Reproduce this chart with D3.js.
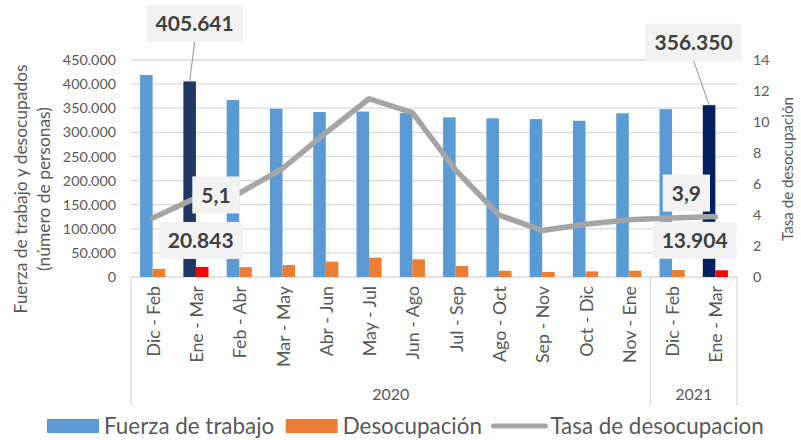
<!DOCTYPE html>
<html><head><meta charset="utf-8">
<script src="https://cdn.jsdelivr.net/npm/d3@7"></script>
<style>
html,body{margin:0;padding:0;background:#fff;}
svg{display:block;font-family:Lato,"Open Sans",sans-serif;}
</style></head>
<body>
<svg id="chart" width="801" height="440"></svg>
<script>
// ---- data ----
const categories = ["Dic - Feb","Ene - Mar","Feb - Abr","Mar - May","Abr - Jun","May - Jul","Jun - Ago","Jul - Sep","Ago - Oct","Sep - Nov","Oct - Dic","Nov - Ene","Dic - Feb","Ene - Mar"];
const years = ["2020","2020","2020","2020","2020","2020","2020","2020","2020","2020","2020","2020","2021","2021"];
const fuerzaTrabajo = [419000,405641,367000,349000,342000,343000,340000,331000,329000,327500,324000,339500,348000,356350];
const desocupacion = [17000,20843,20500,24900,31800,40000,36600,22800,13000,10400,11700,13000,14500,13904];
const tasaDesocupacion = [3.8,5.1,5.4,7.0,9.3,11.5,10.6,6.9,4.0,3.0,3.4,3.7,3.8,3.9];
const leftTicks = [0,50000,100000,150000,200000,250000,300000,350000,400000,450000];
const rightTicks = [0,2,4,6,8,10,12,14];
const seriesNames = ["Fuerza de trabajo","Desocupación","Tasa de desocupacion"];
const highlighted = [1,13];

(function(){
// ---- styles ----
const C = {blue:"#5B9BD5", orange:"#ED7D31", gray:"#A5A5A5", grid:"#D9D9D9", text:"#595959", label:"#404040", box:"#F2F2F2"};
const darkBar = {1:"#1F3864", 13:"#002060"};
const redBar = "#FF0000";

const loc = d3.formatLocale({decimal:",", thousands:".", grouping:[3], currency:["",""]});
const fmtInt = loc.format(",.0f");
const fmtDec = loc.format(",.1f");

const svg = d3.select("#chart");
const pLeft = 131, pRight = 737, pTop = 60, pBottom = 277;

const x0 = d3.scaleBand().domain(d3.range(categories.length)).range([pLeft,pRight]).paddingInner(0.42).paddingOuter(0.21);
const x1 = d3.scaleBand().domain(["f","d"]).range([0,x0.bandwidth()]);
const yL = d3.scaleLinear().domain([0,450000]).range([pBottom,pTop]);
const yR = d3.scaleLinear().domain([0,14]).range([pBottom,pTop]);
const cx = i => x0(i) + x0.bandwidth()/2;

// gridlines
svg.append("g").selectAll("line").data(leftTicks.filter(d=>d>0)).join("line")
  .attr("x1",pLeft).attr("x2",pRight).attr("y1",d=>yL(d)).attr("y2",d=>yL(d))
  .attr("stroke",C.grid).attr("stroke-width",1.3);

// left axis
const gL = svg.append("g").attr("transform",`translate(${pLeft},0)`)
  .call(d3.axisLeft(yL).tickValues(leftTicks).tickFormat(fmtInt).tickSize(0).tickPadding(15));
gL.select(".domain").remove();
gL.selectAll("text").attr("fill",C.text).style("font-size","14.3px").style("font-family","Lato");

// right axis
const gR = svg.append("g").attr("transform",`translate(${pRight},0)`)
  .call(d3.axisRight(yR).tickValues(rightTicks).tickFormat(d3.format("d")).tickSize(0).tickPadding(16));
gR.select(".domain").remove();
gR.selectAll("text").attr("fill",C.text).style("font-size","14.3px").style("font-family","Lato");

// category axis lines
const step = x0.step();
const edge = i => x0(i) - step*x0.paddingOuter();
svg.append("line").attr("x1",pLeft).attr("x2",pRight).attr("y1",pBottom).attr("y2",pBottom).attr("stroke",C.grid).attr("stroke-width",1.3);
const yearGroups = [];
years.forEach((y,i)=>{ if(!yearGroups.length || yearGroups[yearGroups.length-1].year!==y) yearGroups.push({year:y,start:i,end:i}); else yearGroups[yearGroups.length-1].end=i; });
const sepX = [pLeft].concat(yearGroups.map(g=> g.end+1<categories.length ? edge(g.end+1) : pRight));
svg.append("g").selectAll("line").data(sepX).join("line")
  .attr("x1",d=>d).attr("x2",d=>d).attr("y1",pBottom).attr("y2",405)
  .attr("stroke",C.grid).attr("stroke-width",1.3);

// category labels
svg.append("g").selectAll("text").data(categories).join("text")
  .attr("transform",(d,i)=>`translate(${cx(i)},286) rotate(-90)`)
  .attr("text-anchor","end").attr("dy","0.4em")
  .attr("fill",C.text).style("font-size","17.8px").text(d=>d);

// year labels
svg.append("g").selectAll("text").data(yearGroups).join("text")
  .attr("x",g=>{const a=edge(g.start); const b=g.end+1<categories.length?edge(g.end+1):pRight; return (a+b)/2;})
  .attr("y",400).attr("text-anchor","middle").attr("fill",C.text).style("font-size","16px").text(g=>g.year);

// bars
const bars = svg.append("g");
bars.selectAll("rect.f").data(fuerzaTrabajo).join("rect").attr("class","f")
  .attr("x",(d,i)=>x0(i)+x1("f")).attr("width",x1.bandwidth())
  .attr("y",d=>yL(d)).attr("height",d=>pBottom-yL(d))
  .attr("fill",(d,i)=>darkBar[i]||C.blue);
bars.selectAll("rect.d").data(desocupacion).join("rect").attr("class","d")
  .attr("x",(d,i)=>x0(i)+x1("d")).attr("width",x1.bandwidth())
  .attr("y",d=>yL(d)).attr("height",d=>pBottom-yL(d))
  .attr("fill",(d,i)=>highlighted.includes(i)?redBar:C.orange);

// line
svg.append("path").datum(tasaDesocupacion)
  .attr("d",d3.line().x((d,i)=>cx(i)).y(d=>yR(d)))
  .attr("fill","none").attr("stroke",C.gray).attr("stroke-width",5.5)
  .attr("stroke-linejoin","round").attr("stroke-linecap","round");

// data labels
const lab = svg.append("g");
function labelBox(x,y,txt,leader){
  const g = lab.append("g");
  const t = g.append("text").attr("x",x).attr("y",y).attr("dy","0.36em").attr("text-anchor","middle")
    .attr("fill",C.label).style("font-size","21px").style("font-weight","bold").text(txt);
  const w = t.node().getComputedTextLength()+18, h = 37;
  g.insert("rect","text").attr("x",x-w/2).attr("y",y-h/2).attr("width",w).attr("height",h).attr("fill",C.box);
  if(leader){
    g.insert("line","rect").attr("x1",x).attr("y1",y+h/2).attr("x2",leader[0]).attr("y2",leader[1])
      .attr("stroke","#A6A6A6").attr("stroke-width",1.2);
  }
}
const fOff = {1:[5,-58], 13:[-15.5,-63]};
const tOff = {1:[20,-3], 13:[-29,-23.5]};
const dOff = {1:[-1.5,-26.5], 13:[-27,-30]};
highlighted.forEach(i=>{
  const bx = x0(i)+x1("f")+x1.bandwidth()/2, by = yL(fuerzaTrabajo[i]);
  labelBox(bx+fOff[i][0], by+fOff[i][1], fmtInt(fuerzaTrabajo[i]), [bx, by]);
  const dx = x0(i)+x1("d")+x1.bandwidth()/2, dy = yL(desocupacion[i]);
  labelBox(dx+dOff[i][0], dy+dOff[i][1], fmtInt(desocupacion[i]));
  labelBox(cx(i)+tOff[i][0], yR(tasaDesocupacion[i])+tOff[i][1], fmtDec(tasaDesocupacion[i]));
});

// axis titles
const tl = svg.append("text").attr("transform","translate(21,189) rotate(-90)").attr("text-anchor","middle")
  .attr("fill",C.text).style("font-size","17.4px");
tl.append("tspan").attr("x",0).attr("dy","0.35em").text("Fuerza de trabajo y desocupados");
tl.append("tspan").attr("x",0).attr("dy","1.3em").text("(número de personas)");
svg.append("text").attr("transform","translate(788,169) rotate(-90)").attr("text-anchor","middle").attr("dy","0.35em")
  .attr("fill",C.text).style("font-size","15.1px").text("Tasa de desocupación");

// legend
const lg = svg.append("g");
let lx = 47; const ly = 426;
seriesNames.forEach((name,k)=>{
  if(k<2){
    lg.append("rect").attr("x",lx).attr("y",ly-7).attr("width",52).attr("height",14).attr("fill",k===0?C.blue:C.orange);
  } else {
    lg.append("line").attr("x1",lx).attr("x2",lx+52).attr("y1",ly).attr("y2",ly).attr("stroke",C.gray).attr("stroke-width",5).attr("stroke-linecap","round");
  }
  const t = lg.append("text").attr("x",lx+57).attr("y",ly).attr("dy","0.36em").attr("fill",C.text).style("font-size","22.4px").text(name);
  lx += 57 + t.node().getComputedTextLength() + 11.5;
});
})();
</script>
</body></html>
